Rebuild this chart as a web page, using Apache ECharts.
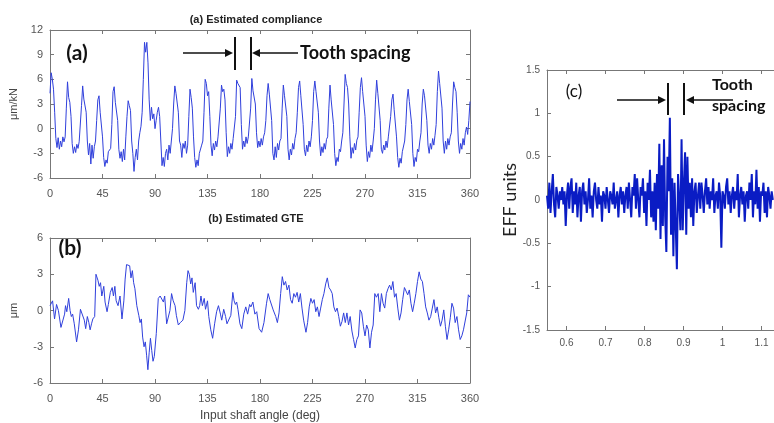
<!DOCTYPE html>
<html>
<head>
<meta charset="utf-8">
<script src="https://cdn.jsdelivr.net/npm/echarts@6/dist/echarts.min.js"></script>
<style>
  html, body { margin: 0; padding: 0; background: #fff; }
  #chart { width: 774px; height: 423px; }
</style>
</head>
<body>
<div id="chart"></div>
<script>
// (a) estimated compliance, one value per degree of input shaft angle (0..360)
const compliance = [
  4.3, 6.8, 6.0, 4.8, 2.0, -1.2, -2.3, -1.1, -2.5, -1.5, -2.2, -1.0, -1.6,
  -1.0, 2.5, 5.7, 3.8, 3.2, 1.5, -1.8, -3.0, -2.2, -2.9, -1.9, -2.4, -1.6, -1.5,
  2.8, 5.2, 3.6, 3.8, 2.0, -1.5, -3.2, -1.8, -4.3, -2.0, -3.6, -2.2, -1.5,
  1.0, 3.5, 4.0, 2.0, 1.8, -1.0, -3.5, -4.6, -3.8, -4.2, -2.8, -2.6, -2.4,
  0.5, 4.5, 5.1, 3.2, 3.4, 1.0, -2.5, -3.6, -2.8, -4.0, -2.5, -3.8, -1.0,
  1.5, 3.4, 2.8, 2.2, -1.5, -3.0, -5.2, -3.5, -2.5, -3.8, -1.5, -0.5, 0.3,
  2.0, 6.0, 10.5, 9.3, 10.5, 8.0, 3.5, 1.0, 2.6, 1.2, 1.8, 0.0, 1.0, 2.0,
  2.6, 1.5, -1.5, -4.5, -3.5, -4.6, -3.0, -2.5, -3.8, -2.0, -3.0, -1.5, 0.0,
  3.0, 5.2, 4.3, 4.5, 2.0, -1.5, -2.0, -3.5, -1.8, -2.4, -1.5, -3.0, -2.0,
  1.5, 4.8, 3.8, 2.5, -1.0, -3.5, -4.7, -3.8, -4.5, -3.0, -3.2, -2.0, -1.5,
  2.0, 6.0, 5.5, 4.0, 4.5, 1.5, -2.0, -3.3, -1.8, -2.6, -1.5, -2.2, -1.0, -0.8,
  2.5, 5.3, 4.5, 4.8, 3.5, -0.5, -3.4, -2.2, -3.0, -1.8, -2.5, -1.2, -1.0,
  1.5, 5.9, 5.5, 5.4, 5.0, 0.5, -2.5, -1.5, -2.2, -1.0, -1.8, -1.0, -0.8,
  2.5, 6.1, 4.6, 4.8, 3.0, -0.5, -2.3, -1.5, -2.2, -1.2, -2.0, -1.0, -0.5,
  1.0, 4.0, 5.5, 4.2, 4.3, 1.0, -3.0, -3.8, -2.2, -3.5, -1.8, -2.6, -1.5, -1.2,
  2.5, 5.3, 4.0, 4.0, 1.5, -2.5, -3.8, -2.5, -3.2, -1.8, -2.5, -1.2, -0.5,
  2.0, 5.0, 5.8, 4.0, 4.2, 0.5, -2.5, -3.3, -2.0, -2.8, -1.5, -2.2, -1.0,
  1.0, 4.5, 5.8, 4.5, 4.6, 2.0, -1.5, -3.3, -2.2, -2.9, -1.8, -2.5, -1.3, -1.0,
  2.5, 5.3, 3.5, 3.3, 0.5, -3.0, -4.5, -3.5, -4.0, -2.5, -2.8, -1.5, -0.5,
  3.0, 6.6, 5.5, 5.0, 3.0, -1.0, -3.6, -2.3, -3.0, -1.8, -2.6, -1.4, -1.0,
  2.0, 5.0, 6.2, 4.5, 4.6, 1.5, -2.0, -4.0, -2.8, -3.5, -2.0, -2.8, -1.5, 0.0,
  3.5, 5.9, 4.3, 4.4, 1.0, -2.5, -3.0, -2.0, -2.6, -1.5, -2.3, -1.0, -1.2,
  1.5, 3.5, 4.2, 2.3, 2.5, -1.0, -3.5, -4.7, -3.6, -4.2, -2.8, -3.0, -1.5,
  0.5, 3.5, 4.8, 3.3, 3.4, 0.5, -3.0, -4.6, -3.5, -4.0, -2.5, -2.8, -1.5, -0.5,
  3.0, 4.8, 4.0, 4.1, 1.0, -2.0, -3.0, -1.8, -2.5, -1.2, -2.0, -0.8,
  0.5, 4.5, 7.0, 5.5, 5.3, 2.5, -1.5, -3.0, -1.5, -2.5, -1.2, -2.0, -1.0, -0.5,
  3.0, 5.7, 5.0, 4.5, 2.0, -1.5, -3.0, -1.8, -2.5, -1.2, -2.0, -0.5, 0.2,
  -0.7, 1.0, 3.3
];

// (b) estimated GTE, [angle deg, micrometres]
const gtePoints = [
  [0, 0.4], [2.2, 0.8], [3.9, -0.7], [5.6, 0.5], [7.2, 0], [9.4, -1.4], [11, -1.4],
  [12.5, -0.3], [13.3, 0.4], [14.4, -0.1], [16, 1.0], [17.2, 0], [18.3, -0.5], [19.4, -0.3],
  [20.8, -1.1], [22.8, -2.6], [24.4, -1.6], [26.1, 0.1], [27.8, 0], [29.4, -0.8], [30.6, -1.5],
  [32, -0.5], [33.3, -1.0], [34.4, -1.6], [35.6, -1.1], [36.7, -0.7], [38.3, -0.5], [39.4, 3.0],
  [41.1, 2.5], [42.2, 2.0], [43.3, 2.3], [44.4, 1.2], [46.1, 2.0], [47.2, 0.7], [48.9, -0.1],
  [50, 0.5], [51.7, 1.5], [53.3, 1.9], [54.4, 1.2], [55.6, 2.0], [56.7, 0.8], [58.3, 0.4],
  [60, 1.2], [61.7, -0.7], [63.3, 0.8], [64.4, 2.6], [65.6, 3.8], [67.2, 3.7], [68.3, 3.7],
  [69.4, 2.7], [70.6, 3.3], [71.7, 2.3], [72.8, 1.8], [74.4, 0.4], [76.1, -0.4], [77.2, -1.0],
  [78.3, -0.7], [79.4, -2.2], [80.6, -3.0], [81.7, -2.6], [82.8, -3.7], [83.9, -4.9], [85, -3.5],
  [86.1, -2.3], [87.2, -3.3], [88.3, -4.2], [89.4, -3.8], [91.1, -1.9], [92.8, 1.0], [94.4, 1.2],
  [96.1, 1.2], [97.2, 0.7], [98.3, 1.2], [100, -1.1], [101.7, -1.0], [102.8, 0], [104.2, 1.4],
  [105.6, 0.8], [107.2, 0.4], [108.3, -0.4], [110, -1.2], [111.7, -1.0], [113.9, -0.8], [115.6, 0],
  [117.2, 2.3], [118.3, 3.3], [119.4, 3.0], [120.6, 2.2], [121.7, 2.7], [122.8, 1.5], [124.4, 2.3],
  [125.6, 0.4], [127.2, 0.1], [128.3, 0.4], [129.4, 1.2], [130.6, 0.4], [132.2, 1.0], [133.3, 0.1],
  [135, 0.8], [136.1, -0.5], [137.8, -1.6], [139.4, -2.3], [141.1, -1.1], [142.8, -0.1], [144.4, 0.4],
  [146.1, -0.3], [147.2, -0.8], [148.9, 0.1], [150.5, -0.5], [151.7, -1.1], [153.3, -1.1], [155, -0.4],
  [156.7, 1.5], [157.8, 0.8], [158.9, 0.5], [160, 0.7], [161.1, 0.1], [162.8, -1.1], [164.4, -1.5],
  [166.1, -0.3], [167.8, 0.3], [169.4, -0.3], [171.1, 0.5], [172.2, 0.3], [173.9, 0.7], [175.6, -0.3],
  [177.2, -0.1], [179.2, -1.5], [181.4, -1.8], [183.4, -1.0], [185.6, 0.6], [187, 1.4], [188.4, 0.9],
  [189.8, 1.0], [191.3, 0.05], [193.5, -0.5], [194.9, -1.0], [196.3, -0.2], [197.7, 1.4], [199.1, 2.8],
  [200.5, 2.1], [201.9, 2.4], [203.3, 1.7], [204.8, 2.1], [206.2, 0.9], [207.6, 0.6], [209, 1.4],
  [210.4, 1.1], [211.8, 1.5], [213.2, 0.7], [214.6, 1.4], [216, 0.2], [217.4, -0.8], [219.4, -1.8],
  [220.8, -1.0], [222.2, 0.3], [223.6, 1.0], [225, 0.6], [226.4, 0.9], [227.8, -0.1], [229.2, 0.3],
  [230.6, -0.5], [232, 0.2], [233.4, 0.9], [234.8, 1.4], [236.3, 2.2], [237.7, 2.7], [239.1, 1.9],
  [240.5, 1.7], [241.9, 1.4], [243.3, 0.3], [244.7, -0.1], [246.1, 0.2], [247.5, -0.5], [248.9, -1.3],
  [250.3, -0.9], [251.7, -0.2], [253.1, -1.0], [254.5, -0.2], [255.9, -1.2], [257.3, -0.5], [258.8, -1.7],
  [260.2, -2.4], [261.6, -3.1], [263, -2.4], [264.4, -2.1], [265.8, 0.05], [267.2, -0.2], [268.6, -1.3],
  [270, -2.1], [271.4, -1.2], [272.8, -1.6], [274.2, -3.1], [275.6, -1.8], [277, -1.2], [278.4, 1.4],
  [279.8, 1.1], [281.3, 1.4], [282.7, -0.1], [284.1, 1.4], [285.5, 0.6], [286.9, 0.2], [288.3, 1.4],
  [289.7, 1.8], [291.1, 2.1], [292.5, 1.7], [293.9, 2.4], [295.3, 1.1], [296.7, 1.4], [298.1, 0.2],
  [299.5, -0.8], [300.9, -0.2], [302.3, 0.9], [303.8, 1.9], [305.2, 1.8], [306.6, 1.3], [308, 1.7],
  [309.4, 0.6], [310.8, -0.1], [312.2, 0.6], [313.6, 1.4], [315, 2.4], [316.4, 3.2], [317.8, 2.6],
  [319.2, 2.4], [320.6, 1.4], [322, 0.3], [323.4, -0.2], [324.8, -0.8], [326.3, -0.5], [327.7, 0.2],
  [329.1, 0.9], [330.5, -0.2], [331.9, 0.3], [333.3, -0.6], [334.7, -1.3], [336.1, -0.8], [337.5, 0.05],
  [338.9, -1.3], [340.3, -2.4], [341.7, -1.6], [343.1, -0.6], [344.5, 0.6], [345.9, 0.2], [347.3, -1.0],
  [348.8, -0.5], [350.2, -1.6], [351.6, -2.4], [353, -2.1], [354.4, -1.6], [355.8, -1.6], [357.2, -0.2],
  [358.6, 1.3], [360, 1.1]
];

// (c) EFF signal, sampled from effStart every effStep
const effStart = 0.55;
const effStep = 0.003;
const effValues = [
  0.05, -0.1, 0.2, -0.15, 0.1, 0.3, -0.05, -0.2, 0.15, 0.05,
  -0.1, 0.1, 0.0, 0.15, -0.05, 0.1, -0.3, 0.05, 0.2, -0.1,
  0.15, 0.25, -0.15, 0.1, -0.05, 0.2, -0.2, 0.05, 0.15, -0.25,
  0.1, 0.2, -0.05, 0.1, -0.15, 0.0, 0.25, -0.1, 0.05, -0.2,
  0.1, 0.2, 0.0, -0.1, 0.15, -0.05, 0.05, -0.25, 0.1, 0.05,
  -0.1, 0.15, 0.0, -0.15, 0.1, 0.05, -0.05, 0.2, -0.1, 0.0,
  0.1, -0.2, 0.05, 0.15, -0.05, 0.1, -0.15, 0.05, 0.15, -0.1,
  0.2, 0.0, -0.2, 0.15, 0.05, 0.3, -0.1, 0.25, 0.0, -0.2,
  0.15, 0.05, 0.25, -0.15, 0.1, -0.3, 0.2, 0.0, 0.35, -0.2,
  0.1, -0.25, 0.2, -0.35, 0.3, -0.1, 0.65, -0.45, 0.4, -0.3,
  0.7, -0.2, -0.6, 0.5, 0.1, 0.95, -0.4, 0.25, -0.65, 0.2,
  -0.3, -0.8, 0.3, 0.0, -0.35, 0.7, -0.35, 0.2, 0.55, -0.4,
  0.5, -0.1, 0.2, -0.2, 0.25, -0.3, 0.1, 0.2, -0.15, 0.05,
  0.2, -0.1, 0.2, 0.05, -0.15, 0.1, 0.25, -0.05, 0.15, -0.1,
  0.1, 0.0, 0.25, -0.15, 0.05, 0.1, -0.1, 0.2, 0.05, -0.55,
  0.1, 0.05, -0.1, 0.15, 0.25, -0.05, 0.1, -0.15, 0.05, 0.15,
  -0.1, 0.1, 0.0, 0.3, -0.2, 0.05, 0.15, -0.05, 0.1, -0.25,
  0.05, 0.1, -0.1, 0.2, 0.0, 0.3, -0.2, 0.1, -0.05, 0.35,
  -0.1, 0.15, -0.25, 0.1, 0.05, 0.2, -0.15, 0.1, -0.2, 0.15,
  0.05, -0.1, 0.1, 0.0
];

var myChart = echarts.init(document.getElementById("chart"), null, { renderer: "canvas" });

const frameColor = "#777";
const labelFont = "Liberation Sans";
const noteFont = "Lato";

function boxAxis(opts, showLabel, fontSize, margin) {
  return Object.assign({
    type: "value",
    splitLine: { show: false },
    axisLine: { show: true, onZero: false, lineStyle: { color: frameColor, width: 1 } },
    axisTick: { show: true, inside: true, length: 4, lineStyle: { color: frameColor } },
    axisLabel: { show: showLabel, color: "#555", fontSize: fontSize || 11, fontFamily: labelFont,
      margin: margin || 7, showMinLabel: true, showMaxLabel: true },
  }, opts);
}

// arrow pieces for the "tooth spacing" notes
function arrow(x1, x2, y) {
  const dir = x2 > x1 ? 1 : -1;
  return [
    { type: "line", shape: { x1: x1, y1: y, x2: x2 - dir * 5, y2: y }, style: { stroke: "#111", lineWidth: 1.5 } },
    { type: "polygon", shape: { points: [[x2, y], [x2 - dir * 8, y - 4], [x2 - dir * 8, y + 4]] }, style: { fill: "#111" } },
  ];
}
function bar(x, y1, y2) {
  return { type: "line", shape: { x1: x, y1: y1, x2: x, y2: y2 }, style: { stroke: "#111", lineWidth: 2 } };
}
function note(text, x, y, size, weight, align) {
  return {
    type: "text", x: x, y: y,
    style: { text: text, fontSize: size, fontWeight: weight, fontFamily: noteFont, fill: "#111",
      textAlign: align || "left", textVerticalAlign: "middle" },
  };
}

var graphics = [
  { type: "text", x: 256, y: 20, style: { text: "(a) Estimated compliance", fontSize: 11, fontWeight: "bold",
    fontFamily: labelFont, fill: "#222", textAlign: "center", textVerticalAlign: "middle" } },
  { type: "text", x: 256, y: 219, style: { text: "(b) Estimated GTE", fontSize: 11, fontWeight: "bold",
    fontFamily: labelFont, fill: "#222", textAlign: "center", textVerticalAlign: "middle" } },
  note("(a)", 77, 53, 21, "bold", "center"),
  note("(b)", 70, 248, 21, "bold", "center"),
  note("(c)", 574, 92, 17, "normal", "center"),
  bar(235, 37, 70),
  bar(251, 37, 70),
  note("Tooth spacing", 300, 53, 18, "bold"),
  bar(668, 83, 115),
  bar(684, 83, 115),
  note("Tooth", 712, 85, 16, "bold"),
  note("spacing", 712, 106, 16, "bold"),
].concat(arrow(183, 233, 53), arrow(298, 252, 53), arrow(617, 666, 100), arrow(733, 686, 100));

var option = {
  backgroundColor: "#fff",
  animation: false,
  grid: [
    { left: 43, top: 30, width: 427, height: 148 },
    { left: 43, top: 238, width: 427, height: 149 },
    // panel (c) is cut off by the right edge of the figure
    { left: 547, top: 70, width: 227, height: 260 },
  ],
  xAxis: [
    boxAxis({ gridIndex: 0, position: "bottom", min: 0, max: 360, interval: 45 }, true, 11, 10),
    boxAxis({ gridIndex: 0, position: "top", min: 0, max: 360, interval: 45 }, false),
    boxAxis({ gridIndex: 1, position: "bottom", min: 0, max: 360, interval: 45,
      name: "Input shaft angle (deg)", nameLocation: "middle", nameGap: 27,
      nameTextStyle: { color: "#444", fontSize: 12, fontFamily: labelFont } }, true, 11, 10),
    boxAxis({ gridIndex: 1, position: "top", min: 0, max: 360, interval: 45 }, false),
    Object.assign(boxAxis({ gridIndex: 2, position: "bottom", min: 0.55, max: 1.132, splitNumber: 6 }, true, 10),
      { axisLabel: { color: "#555", fontSize: 10, fontFamily: labelFont, margin: 8, showMinLabel: false, showMaxLabel: false } }),
    boxAxis({ gridIndex: 2, position: "top", min: 0.55, max: 1.132, splitNumber: 6 }, false),
  ],
  yAxis: [
    boxAxis({ gridIndex: 0, position: "left", min: -6, max: 12, interval: 3,
      name: "μm/kN", nameLocation: "middle", nameGap: 31,
      nameTextStyle: { color: "#444", fontSize: 11, fontFamily: labelFont } }, true),
    boxAxis({ gridIndex: 0, position: "right", min: -6, max: 12, interval: 3 }, false),
    boxAxis({ gridIndex: 1, position: "left", min: -6, max: 6, interval: 3,
      name: "μm", nameLocation: "middle", nameGap: 31,
      nameTextStyle: { color: "#444", fontSize: 11, fontFamily: labelFont } }, true),
    boxAxis({ gridIndex: 1, position: "right", min: -6, max: 6, interval: 3 }, false),
    boxAxis({ gridIndex: 2, position: "left", min: -1.5, max: 1.5, interval: 0.5,
      name: "EFF units", nameLocation: "middle", nameGap: 27,
      nameTextStyle: { color: "#222", fontSize: 18, fontFamily: noteFont } }, true, 10),
  ],
  series: [
    {
      type: "line", xAxisIndex: 0, yAxisIndex: 0, showSymbol: false, silent: true,
      lineStyle: { color: "#3040dc", width: 1 },
      data: compliance.map(function (v, i) { return [i, v]; }),
    },
    {
      type: "line", xAxisIndex: 2, yAxisIndex: 2, showSymbol: false, silent: true,
      lineStyle: { color: "#3040dc", width: 1 },
      data: gtePoints,
    },
    {
      type: "line", xAxisIndex: 4, yAxisIndex: 4, showSymbol: false, silent: true,
      lineStyle: { color: "#0a1cc4", width: 2 },
      data: effValues.map(function (v, i) { return [effStart + i * effStep, v]; }),
    },
  ],
  graphic: graphics,
};

option && myChart.setOption(option);
</script>
</body>
</html>
